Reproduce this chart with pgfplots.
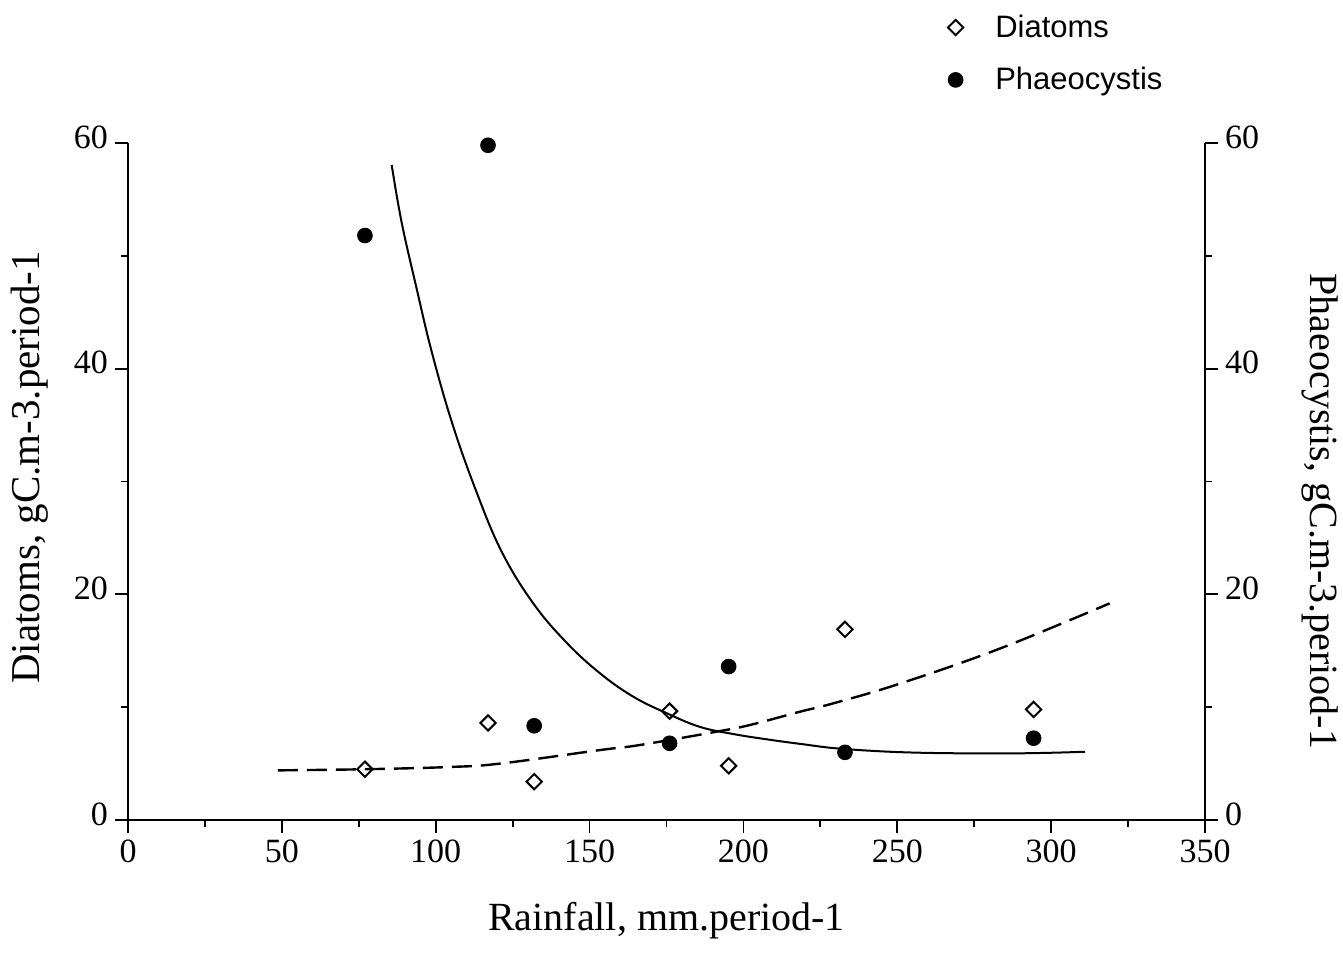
\documentclass[border=0pt]{standalone}
\usepackage{fontspec}
\setmainfont{Liberation Serif}
\newfontfamily\arial{Liberation Sans}
\usepackage{pgfplots}
\pgfplotsset{compat=1.18}

\begin{document}
\begin{tikzpicture}
\useasboundingbox (-64pt,-67.5pt) rectangle (607.5pt,410pt);
\begin{axis}[
  at={(0,0)}, anchor=south west,
  width=538.5pt, height=338.5pt, scale only axis,
  xmin=0, xmax=350, ymin=0, ymax=60,
  axis x line*=bottom, axis y line*=left,
  x axis line style={-, line width=1.4pt},
  y axis line style={-, line width=1pt},
  xtick={0,50,...,350}, ytick={0,20,40,60},
  minor xtick={25,75,...,325}, minor ytick={10,30,50},
  tick align=outside,
  major tick length=6.5pt, minor tick length=3.5pt,
  tick style={line width=0.9pt, black},
  ticklabel style={font=\fontsize{17}{20}\selectfont},
  yticklabel style={yshift=3pt},
  /pgf/number format/assume math mode=true,
  xlabel={Rainfall, mm.period-1},
  ylabel={Diatoms, gC.m-3.period-1},
  every axis x label/.style={at={(axis description cs:0.5,-0.148)}, anchor=center, font=\fontsize{20}{24}\selectfont},
  every axis y label/.style={at={(axis description cs:-0.091,0.521)}, anchor=center, rotate=90, font=\fontsize{20.5}{24}\selectfont},
  clip=false,
  legend cell align=left,
  legend style={at={(0.761,1.196)}, anchor=north west, draw=none, fill=none,
    inner sep=0pt, row sep=9.5pt, font=\arial\fontsize{15.5}{18}\selectfont},
]
\addplot[only marks, mark=square, mark size=2.7pt, mark options={rotate=45, line width=1pt, fill=white}]
coordinates {(77,4.5) (117,8.6) (132,3.4) (176,9.65) (195.2,4.8) (233,16.9) (294.3,9.8)};
\addlegendentry{\hspace{14pt}Diatoms}
\addplot[only marks, mark=*, mark size=3.7pt, black]
coordinates {(77,51.8) (117,59.8) (132,8.35) (176,6.8) (195.2,13.6) (233,6.0) (294.3,7.25)};
\addlegendentry{\hspace{14pt}Phaeocystis}
\addplot[smooth, tension=0.65, line width=1pt, black, forget plot]
coordinates {(85.7,58.05) (88.9,53.0) (93.8,47.1) (98.7,41.5) (105.2,35.3) (112.8,29.4) (121.4,23.8) (131.7,19.2) (142.6,15.7) (153.4,13.0) (164.2,10.93) (175.1,9.46) (185.9,8.25) (196.7,7.62) (207.6,7.15) (218.4,6.75) (232.5,6.3) (256.3,5.97) (288.8,5.91) (311.0,6.05)};
\addplot[smooth, tension=0.65, line width=1.2pt, black, dash pattern=on 10pt off 4.5pt, forget plot]
coordinates {(48.7,4.4) (77,4.5) (104.6,4.7) (120.9,5.0) (153.4,6.2) (166.4,6.65) (191.3,7.83) (202.1,8.42) (218.4,9.6) (229.2,10.34) (251,12.1) (283.4,15.2) (319,19.2)};
\end{axis}
\begin{axis}[
  at={(0,0)}, anchor=south west,
  width=538.5pt, height=338.5pt, scale only axis,
  xmin=0, xmax=350, ymin=0, ymax=60,
  axis x line=none, axis y line*=right,
  y axis line style={-, line width=1pt},
  ytick={0,20,40,60}, minor ytick={10,30,50},
  tick align=outside,
  major tick length=6.5pt, minor tick length=3.5pt,
  tick style={line width=0.9pt, black},
  ticklabel style={font=\fontsize{17}{20}\selectfont},
  yticklabel style={yshift=3pt},
  /pgf/number format/assume math mode=true,
  ylabel={Phaeocystis, gC.m-3.period-1},
  every axis y label/.style={at={(axis description cs:1.107,0.456)}, anchor=center, rotate=-90, font=\fontsize{20}{24}\selectfont},
]
\end{axis}
\end{tikzpicture}
\end{document}
